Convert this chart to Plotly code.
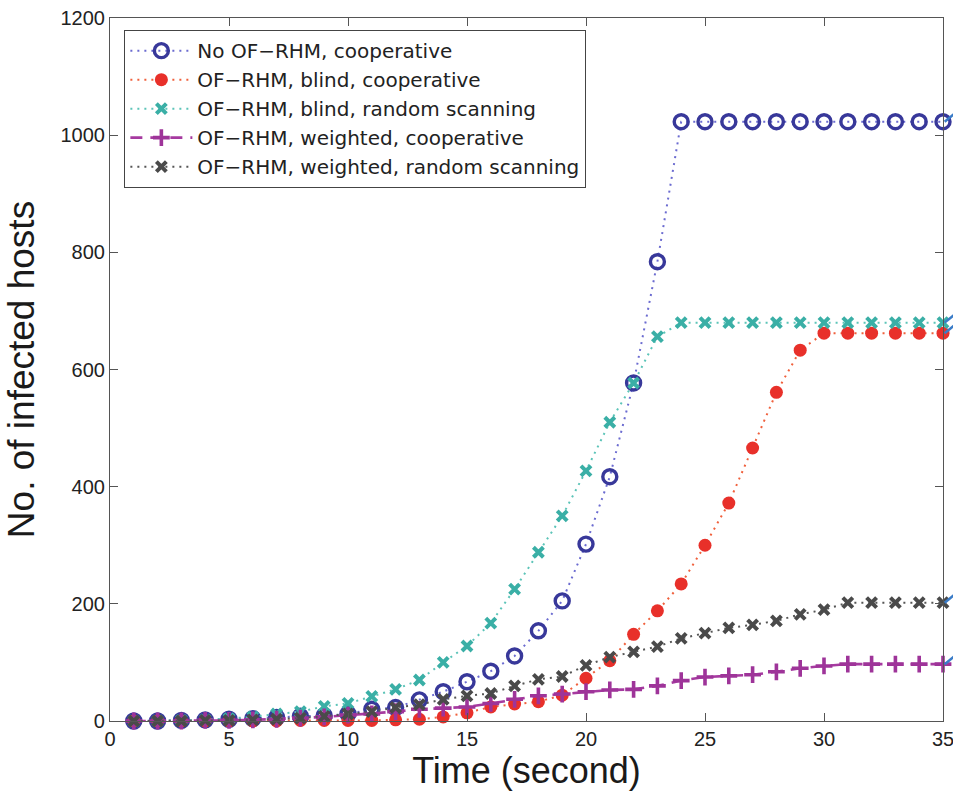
import plotly.graph_objects as go

t = list(range(1, 36))

no_rhm_coop = [0, 0, 1, 2, 3, 4, 6, 8, 9, 12, 20, 23, 36, 50, 67, 85, 111, 154, 205, 302,
               417, 577, 784, 1023] + [1023] * 11
blind_coop = [0, 0, 0, 0, 0, 0, 0, 1, 1, 1, 1, 2, 3, 7, 14, 24, 29, 33, 44, 73,
              103, 148, 188, 234, 300, 372, 466, 561, 633, 662] + [662] * 5
blind_rand = [0, 0, 1, 2, 4, 7, 12, 16, 25, 30, 42, 54, 70, 100, 128, 167, 225, 288, 350, 427,
              510, 577, 656, 680] + [680] * 11
weighted_coop = [0, 0, 0, 1, 1, 2, 3, 5, 7, 10, 12, 16, 20, 22, 24, 30, 37, 43, 46, 50,
                 53, 54, 60, 69, 75, 77, 79, 84, 90, 94, 97] + [97] * 4
weighted_rand = [0, 0, 0, 1, 1, 2, 3, 5, 8, 12, 16, 23, 28, 37, 43, 47, 60, 71, 76, 95,
                 109, 118, 127, 141, 150, 159, 164, 171, 182, 190, 202] + [202] * 4

names = ["No OF\u2212RHM, cooperative",
         "OF\u2212RHM, blind, cooperative",
         "OF\u2212RHM, blind, random scanning",
         "OF\u2212RHM, weighted, cooperative",
         "OF\u2212RHM, weighted, random scanning"]

xticks = [0, 5, 10, 15, 20, 25, 30, 35]
yticks = [0, 200, 400, 600, 800, 1000, 1200]

# end values pointed at by the (cropped) call-out arrows beyond the right edge
callout_targets = [1023, 680, 662, 202, 97]

DOT = "2px,5px"
FONT = "Liberation Sans, Arial, Helvetica"

fig = go.Figure()
fig.add_trace(go.Scatter(x=t, y=no_rhm_coop, name=names[0], mode="lines+markers",
                         line=dict(color="#6b6bd0", width=2, dash=DOT),
                         marker=dict(symbol="circle-open", size=14, color="#38389a",
                                     line=dict(width=3.4, color="#38389a")),
                         cliponaxis=False))
fig.add_trace(go.Scatter(x=t, y=blind_coop, name=names[1], mode="lines+markers",
                         line=dict(color="#f0603c", width=2, dash=DOT),
                         marker=dict(symbol="circle", size=13, color="#e8302a"),
                         cliponaxis=False))
fig.add_trace(go.Scatter(x=t, y=blind_rand, name=names[2], mode="lines+markers",
                         line=dict(color="#5cc4b8", width=2, dash=DOT),
                         marker=dict(symbol="x-thin-open", size=10, color="#3aafa6",
                                     line=dict(width=4, color="#3aafa6")),
                         cliponaxis=False))
fig.add_trace(go.Scatter(x=t, y=weighted_coop, name=names[3], mode="lines+markers",
                         line=dict(color="#a63aa0", width=2.6, dash="12px,8px"),
                         marker=dict(symbol="cross-thin-open", size=12, color="#9e3499",
                                     line=dict(width=3.6, color="#9e3499")),
                         cliponaxis=False))
fig.add_trace(go.Scatter(x=t, y=weighted_rand, name=names[4], mode="lines+markers",
                         line=dict(color="#555555", width=2, dash=DOT),
                         marker=dict(symbol="x-thin-open", size=10, color="#4a4a4a",
                                     line=dict(width=4, color="#4a4a4a")),
                         cliponaxis=False))

axis_common = dict(showgrid=False, zeroline=False, showline=True, linecolor="#555555",
                   linewidth=1.2, mirror="ticks", ticks="inside", ticklen=8,
                   tickcolor="#555555", tickwidth=1, automargin=False,
                   ticklabeloverflow="allow",
                   tickfont=dict(family=FONT, size=20, color="#222222"))

shapes = []
for v in callout_targets:
    shapes.append(dict(type="line", xref="paper", yref="y",
                       x0=1.002, x1=1.014, y0=v, y1=v + 14,
                       line=dict(color="#3a7cc8", width=2.5)))

fig.update_layout(
    width=953, height=791,
    margin=dict(l=110, r=10, t=18, b=70),
    paper_bgcolor="white", plot_bgcolor="white",
    xaxis=dict(range=[0, 35], tickvals=xticks, ticktext=[str(v) for v in xticks],
               title=dict(text="Time (second)", standoff=4,
                          font=dict(family=FONT, size=36, color="#1a1a1a")),
               **axis_common),
    yaxis=dict(range=[0, 1200], tickvals=yticks, ticktext=[str(v) for v in yticks],
               title=dict(text="No. of infected hosts", standoff=14,
                          font=dict(family=FONT, size=37, color="#1a1a1a")),
               **axis_common),
    legend=dict(x=0.017, y=0.983, xanchor="left", yanchor="top",
                bgcolor="white", bordercolor="#444444", borderwidth=1.2,
                font=dict(family="DejaVu Sans, " + FONT, size=20, color="#222222"),
                itemwidth=62, tracegroupgap=0),
    shapes=shapes,
    showlegend=True,
)

fig.write_html("out.html")
